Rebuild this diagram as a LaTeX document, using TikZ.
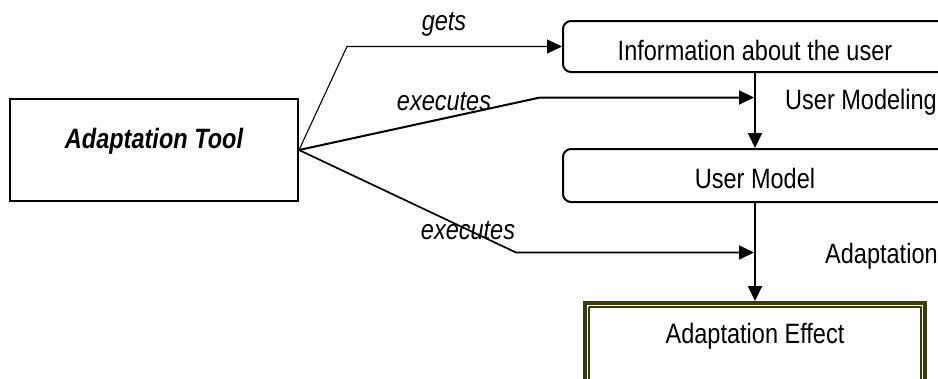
\documentclass[tikz,border=0pt]{standalone}
\usepackage{fontspec}
\setmainfont{Liberation Sans}
\newfontfamily\narrowsans[FakeStretch=0.84]{Liberation Sans}
\usetikzlibrary{arrows.meta,calc}
\definecolor{olivedark}{RGB}{60,60,8}
\tikzset{
  txt/.style={font=\narrowsans\fontsize{28}{32}\selectfont},
  lbl/.style={font=\narrowsans\itshape\fontsize{28}{32}\selectfont, inner sep=0pt},
  plainbox/.style={draw, line width=2pt, txt},
  rbox/.style={draw, line width=2pt, rounded corners=8pt, txt},
  effbox/.style={draw=olivedark, line width=4pt},
  tip/.style={-{Triangle[length=15pt,width=14pt]}},
  flow/.style={line width=2pt, tip},
  thinflow/.style={line width=1.1pt, tip}
}
\begin{document}
\begin{tikzpicture}[x=1pt,y=-1pt]
  \useasboundingbox (0,0) rectangle (938,378);
  \clip (0,0) rectangle (938,378);

  % the tool that drives the process
  \node[plainbox, minimum width=288pt, minimum height=102pt,
        text height=14pt, text depth=18pt,
        font=\narrowsans\bfseries\itshape\fontsize{28}{32}\selectfont]
        (tool) at (154,150) {Adaptation Tool};

  % process chain on the right
  \node[rbox, minimum width=384pt, minimum height=51pt,
        text height=27pt, text depth=0pt] (info) at (755,46.5)
        {Information about the user};
  \node[rbox, minimum width=384pt, minimum height=53pt,
        text height=25pt, text depth=0pt] (um) at (755,175.5)
        {User Model};
  \node[effbox, minimum width=340pt, minimum height=110pt, anchor=north]
        (eff) at (755,301) {};
  \draw[olivedark, line width=2.6pt]
        ([xshift=6pt,yshift=-6pt]eff.north west) --
        ([xshift=-6pt,yshift=-6pt]eff.north east) --
        ([xshift=-6pt]eff.south east);
  \draw[olivedark, line width=2.6pt]
        ([xshift=6pt,yshift=-6pt]eff.north west) --
        ([xshift=6pt]eff.south west);
  \node[txt, anchor=base] (efftext) at (755,343) {Adaptation Effect};

  \draw[flow] (info.south) -- (um.north);
  \draw[flow] (um.south) -- (eff.north);

  \node[txt, anchor=base west, inner sep=0pt] (modlbl) at (785,109) {User Modeling};
  \node[txt, anchor=base west, inner sep=0pt] (adlbl) at (825,263) {Adaptation};

  % connectors from the tool
  \coordinate (getsbend) at (347,46.5);
  \coordinate (exbend1) at (540,97.5);
  \coordinate (exend1) at (754,97.5);
  \coordinate (exbend2) at (516,252.5);
  \coordinate (exend2) at (754,252.5);
  \draw[thinflow] (tool.east) -- (getsbend) -- (info.west);
  \draw[flow] (tool.east) -- (exbend1) -- (exend1);
  \draw[line width=1.7pt, tip] (tool.east) -- (exbend2) -- (exend2);

  \node[lbl, anchor=base] (getslbl) at (444,30) {gets};
  \node[lbl, anchor=base] (ex1lbl) at (444,110) {executes};
  \node[lbl, anchor=base] (ex2lbl) at (468,239) {executes};
\end{tikzpicture}
\end{document}
